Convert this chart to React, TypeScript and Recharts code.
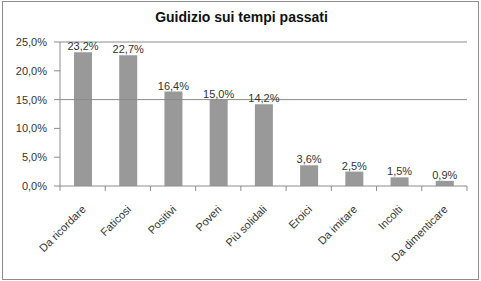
import { Bar, BarChart, LabelList, ReferenceLine, XAxis, YAxis } from "recharts";

// Excel-style single-series column chart: share of answers per judgement.
const CATEGORIES = [
  "Da ricordare",
  "Faticosi",
  "Positivi",
  "Poveri",
  "Più solidali",
  "Eroici",
  "Da imitare",
  "Incolti",
  "Da dimenticare",
];
const SHARES = [23.2, 22.7, 16.4, 15.0, 14.2, 3.6, 2.5, 1.5, 0.9];
const Y_TICKS = [0, 5, 10, 15, 20, 25];
const GRID_AT = [15, 25];

const W = 481;
const H = 281;
const MARGIN = { top: 42, right: 14, left: 0, bottom: 0 };
const Y_AXIS_W = 60;
const X_AXIS_H = 95;
const PLOT_W = W - MARGIN.left - MARGIN.right - Y_AXIS_W;

const AXIS = "#8c8c8c";
const TEXT = "#333333";
const FONT = "'Liberation Sans', Arial, sans-serif";

const data = CATEGORIES.map((name, i) => ({ name, share: SHARES[i] }));

const pct = (v: number) => `${Number(v).toFixed(1).replace(".", ",")}%`;

// Excel puts the x tick marks between categories and the labels at 45°.
function CategoryTick(props: any) {
  const { x, y, payload, index } = props;
  const band = PLOT_W / CATEGORIES.length;
  const ax = x + 4;
  const ay = y + 24;
  return (
    <g>
      <line x1={x - band / 2} x2={x - band / 2} y1={y} y2={y + 5} stroke={AXIS} />
      {index === CATEGORIES.length - 1 && (
        <line x1={x + band / 2} x2={x + band / 2} y1={y} y2={y + 5} stroke={AXIS} />
      )}
      <text
        x={ax}
        y={ay}
        textAnchor="end"
        fontSize={11}
        fill={TEXT}
        transform={`rotate(-45 ${ax} ${ay})`}
      >
        {payload.value}
      </text>
    </g>
  );
}

export default function App() {
  return (
    <div style={{ position: "absolute", left: 0, top: 0, width: W, height: H, background: "#fff", fontFamily: FONT }}>
      <div
        style={{
          position: "absolute",
          left: 2,
          top: 1,
          width: 477,
          height: 279,
          boxSizing: "border-box",
          border: `1px solid ${AXIS}`,
        }}
      />
      <div
        style={{
          position: "absolute",
          left: 0,
          top: 9,
          width: 483,
          textAlign: "center",
          fontSize: 14,
          fontWeight: "bold",
          color: "#111",
        }}
      >
        Guidizio sui tempi passati
      </div>
      <BarChart width={W} height={H} data={data} margin={MARGIN} style={{ position: "absolute", left: 0, top: 0 }}>
        <XAxis
          dataKey="name"
          height={X_AXIS_H}
          stroke={AXIS}
          tickLine={false}
          tickSize={0}
          tickMargin={0}
          interval={0}
          tick={<CategoryTick />}
        />
        <YAxis
          width={Y_AXIS_W}
          domain={[0, 25]}
          ticks={Y_TICKS}
          tickFormatter={pct}
          stroke={AXIS}
          tickSize={6}
          tickMargin={7}
          tick={{ fill: TEXT, fontSize: 11 }}
        />
        {GRID_AT.map((v) => (
          <ReferenceLine key={v} y={v} stroke={AXIS} />
        ))}
        <Bar dataKey="share" fill="#999999" barSize={18} isAnimationActive={false}>
          <LabelList dataKey="share" position="top" offset={2} formatter={pct} fill={TEXT} fontSize={11} />
        </Bar>
      </BarChart>
    </div>
  );
}
